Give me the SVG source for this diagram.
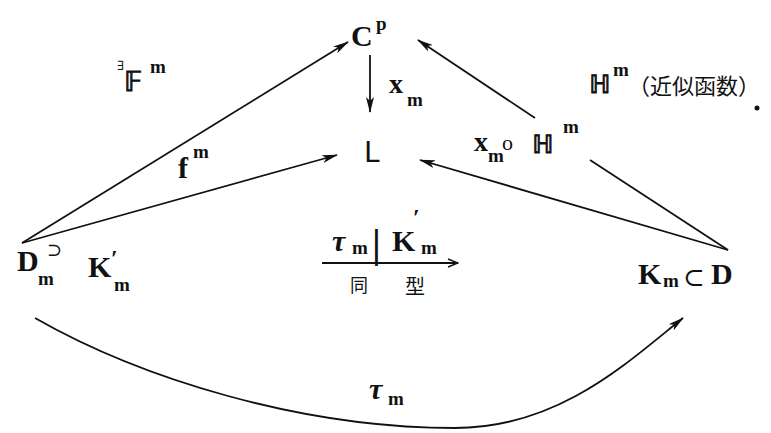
<svg xmlns="http://www.w3.org/2000/svg" width="771" height="433" viewBox="0 0 771 433">
<defs>
<marker id="ah" viewBox="0 0 16 8" refX="15" refY="4" markerWidth="16" markerHeight="8" markerUnits="userSpaceOnUse" orient="auto"><path d="M0,0 L16,4 L0,8 L4,4 z" fill="#111"/></marker>
<marker id="oh" viewBox="0 0 12 10" refX="11" refY="5" markerWidth="12" markerHeight="10" markerUnits="userSpaceOnUse" orient="auto"><path d="M1,1 L11,5 L1,9" fill="none" stroke="#111" stroke-width="1.4"/></marker>
</defs>
<style>
.t{font-family:"Liberation Serif","DejaVu Serif",serif;fill:#111;}
.cap{font-size:30px;font-weight:bold;}
.sub{font-size:19px;font-weight:bold;}
.sym{font-family:"DejaVu Sans","Liberation Sans",sans-serif;fill:#111;}
.dbl{font-family:"DejaVu Sans","Liberation Sans",sans-serif;fill:#111;stroke:#111;stroke-width:0.9;}
.cjk{font-family:"Noto Sans CJK JP","Noto Sans CJK SC",sans-serif;fill:#111;}
.ln{stroke:#111;stroke-width:1.8;fill:none;}
</style>
<rect width="771" height="433" fill="#fff"/>
<g id="connectors">
<path class="ln" d="M22,243 L348,42" marker-end="url(#ah)"/>
<path class="ln" d="M22,243 L337,155" marker-end="url(#ah)"/>
<path class="ln" d="M370,55 L370,112" marker-end="url(#ah)"/>
<path class="ln" d="M728,250 L420,160" marker-end="url(#ah)"/>
<path class="ln" d="M728,250 L590,160"/>
<path class="ln" d="M535,118 L418,40" marker-end="url(#ah)"/>
<path class="ln" d="M322,263 L458,263" stroke-width="1.5" marker-end="url(#oh)"/>
<path class="ln" d="M35,318 C140,378 300,428 455,428 C560,428 630,360 683,318" marker-end="url(#ah)"/>
</g>
<g id="Cp">
<text class="t cap" x="351" y="46">C</text>
<text class="t" x="376" y="30" font-size="19" font-weight="bold">p</text>
</g>
<g id="L">
<text class="sym" x="364" y="162" font-size="28">L</text>
</g>
<g id="Dm">
<text class="t cap" x="17" y="271">D</text>
<text class="t sub" x="38" y="285">m</text>
<text class="t" x="47" y="256" font-size="18">⊃</text>
<text class="t cap" x="88" y="277">K</text>
<text class="t" x="111" y="266" font-size="24" font-weight="bold">′</text>
<text class="t sub" x="114" y="291">m</text>
</g>
<g id="D">
<text class="t cap" x="638" y="284">K</text>
<text class="t sub" x="663" y="287">m</text>
<text class="t" x="683" y="286" font-size="26">⊂</text>
<text class="t cap" x="711" y="284">D</text>
</g>
<g id="labels">
<text class="t" x="117" y="70" font-size="13">∃</text>
<text class="dbl" x="124" y="91" font-size="27">𝔽</text>
<text class="t sub" x="150" y="73">m</text>
<text class="t cap" x="178" y="178">f</text>
<text class="t sub" x="193" y="158">m</text>
<text class="t" x="389" y="93" font-size="28" font-weight="bold">x</text>
<text class="t sub" x="407" y="106">m</text>
<text class="dbl" x="589" y="93" font-size="25">ℍ</text>
<text class="t sub" x="613" y="76">m</text>
<text class="cjk" x="628" y="94" font-size="22">（近似函数）</text>
<circle cx="757" cy="108" r="2.5" fill="#111"/>
<text class="t" x="474" y="151" font-size="28" font-weight="bold">x</text>
<text class="t sub" x="488" y="162">m</text>
<text class="t" x="502" y="150" font-size="22">o</text>
<text class="dbl" x="532" y="153" font-size="25">ℍ</text>
<text class="t sub" x="563" y="133">m</text>
<text class="t cap" x="332" y="251" font-style="italic">τ</text>
<text class="t sub" x="352" y="254" font-size="17">m</text>
<text class="t" x="372" y="257" font-size="40" font-weight="bold">|</text>
<text class="t cap" x="392" y="251">K</text>
<text class="t" x="413" y="225" font-size="24" font-weight="bold">′</text>
<text class="t sub" x="421" y="254">m</text>
<text class="cjk" x="350" y="292" font-size="18">同</text>
<text class="cjk" x="405" y="294" font-size="20">型</text>
<text class="t cap" x="369" y="399" font-style="italic">τ</text>
<text class="t sub" x="388" y="405">m</text>
</g>
</svg>
